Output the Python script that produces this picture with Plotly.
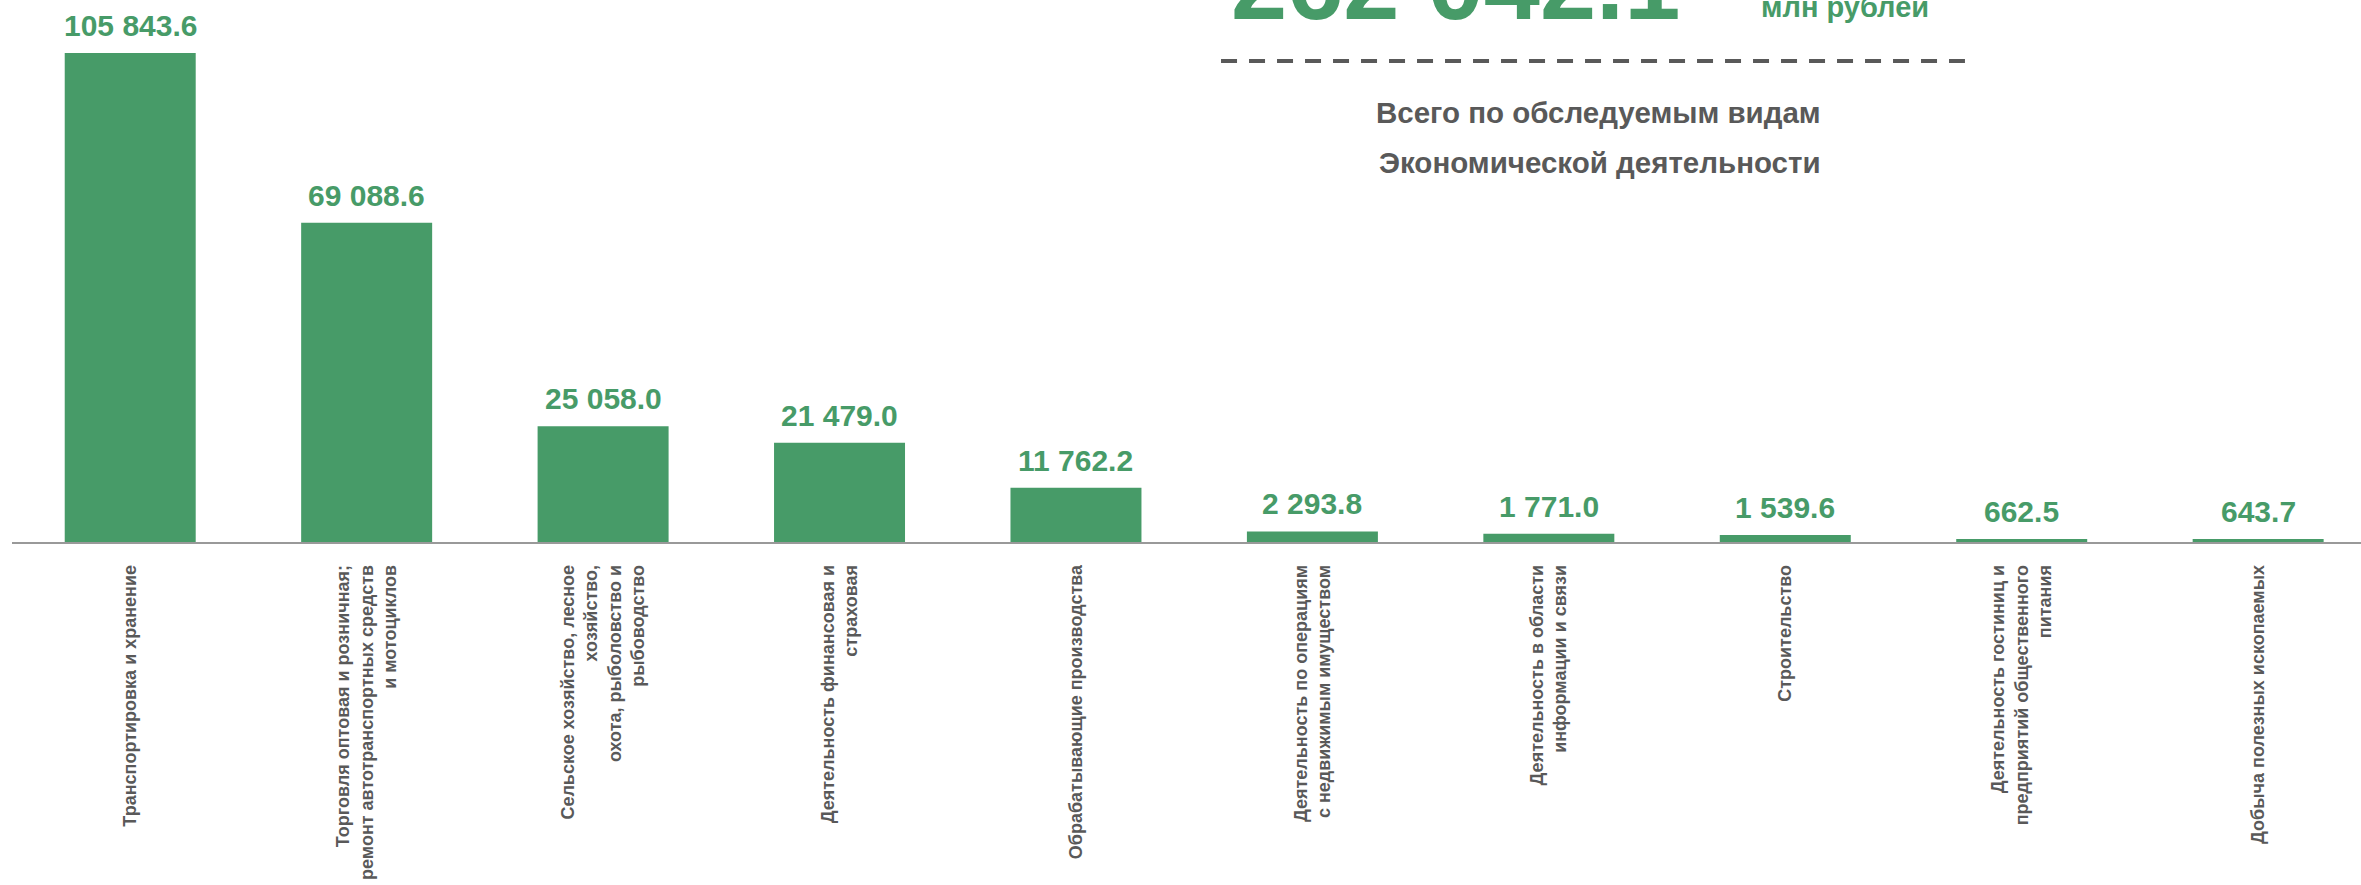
import plotly.graph_objects as go

categories = [
    "Транспортировка и хранение",
    "Торговля оптовая и розничная;<br>ремонт автотранспортных средств<br>и мотоциклов",
    "Сельское хозяйство, лесное<br>хозяйство,<br>охота, рыболовство и<br>рыбоводство",
    "Деятельность финансовая и<br>страховая",
    "Обрабатывающие производства",
    "Деятельность по операциям<br>с недвижимым имуществом",
    "Деятельность в области<br>информации и связи",
    "Строительство",
    "Деятельность гостиниц и<br>предприятий общественного<br>питания",
    "Добыча полезных ископаемых",
]
values = [105843.6, 69088.6, 25058.0, 21479.0, 11762.2, 2293.8, 1771.0, 1539.6, 662.5, 643.7]
value_labels = ["105 843.6", "69 088.6", "25 058.0", "21 479.0", "11 762.2",
                "2 293.8", "1 771.0", "1 539.6", "662.5", "643.7"]
total_label = "262 042.1"
unit_label = "млн рублей"
caption_lines = ["Всего по обследуемым видам", "Экономической деятельности"]

GREEN = "#479B68"
GRAY = "#595959"
FONT = "Liberation Sans, Arial, sans-serif"

x_idx = list(range(len(categories)))

fig = go.Figure()
fig.add_trace(go.Bar(
    x=x_idx, y=values,
    marker=dict(color=GREEN, line=dict(width=0)),
    hoverinfo="skip",
))

annotations = []
for i, (v, lab) in enumerate(zip(values, value_labels)):
    annotations.append(dict(
        x=i, y=v, xref="x", yref="y", text=f"<b>{lab}</b>",
        showarrow=False, xanchor="center", yanchor="bottom", yshift=9,
        font=dict(family=FONT, size=30, color=GREEN),
    ))

annotations.append(dict(
    x=0.6147, y=0.9225, xref="paper", yref="paper", text=f"<b>{total_label}</b>",
    showarrow=False, xanchor="center", yanchor="bottom",
    font=dict(family=FONT, size=101, color=GREEN),
))
annotations.append(dict(
    x=0.7805, y=0.9539, xref="paper", yref="paper", text=f"<b>{unit_label}</b>",
    showarrow=False, xanchor="center", yanchor="bottom",
    font=dict(family=FONT, size=29, color=GREEN),
))
annotations.append(dict(
    x=0.6756, y=0.759, xref="paper", yref="paper", text=f"<b>{caption_lines[0]}</b>",
    showarrow=False, xanchor="center", yanchor="bottom",
    font=dict(family=FONT, size=29.5, color=GRAY),
))
annotations.append(dict(
    x=0.676, y=0.666, xref="paper", yref="paper", text=f"<b>{caption_lines[1]}</b>",
    showarrow=False, xanchor="center", yanchor="bottom",
    font=dict(family=FONT, size=29.5, color=GRAY),
))

shapes = [dict(
    type="line", xref="paper", yref="paper",
    x0=0.5147, x1=0.8314, y0=0.8875, y1=0.8875,
    line=dict(color=GRAY, width=4, dash="16px,12px"),
)]

fig.update_layout(
    width=2361, height=885,
    margin=dict(l=12, r=0, t=0, b=343),
    paper_bgcolor="white", plot_bgcolor="white",
    showlegend=False,
    bargap=0.446,
    annotations=annotations,
    shapes=shapes,
    xaxis=dict(
        range=[-0.5, 9.435],
        tickmode="array", tickvals=x_idx,
        ticktext=[f"<b>{c}</b>" for c in categories],
        tickangle=-90,
        tickfont=dict(family=FONT, size=18, color=GRAY),
        showline=True, linecolor="#999999", linewidth=1.5,
        showgrid=False, zeroline=False, ticks="",
        ticklabelstandoff=14,
    ),
    yaxis=dict(
        range=[0, 117315],
        visible=False, showgrid=False, zeroline=False,
    ),
)

fig.write_html("out.html", config={"displayModeBar": False},
               post_script="document.body.style.margin='0';")
